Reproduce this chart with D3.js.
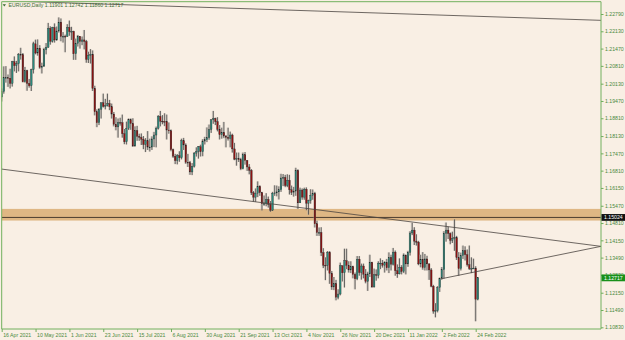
<html>
  <head>
    <script src="https://d3js.org/d3.v7.min.js"></script>
    <style>
      body { margin: 0; background: #f9efe4; }
      text { font-family: "Liberation Sans", Arial, sans-serif; }
      .axis text { fill: #4b8a3e; font-size: 5.2px; }
      .axis line { stroke: #6fae5c; }
      .axis .domain { display: none; }
    </style>
  </head>
  <body>
    <svg id="chart" width="625" height="340"></svg>
    <script>
      // EURUSD daily bars, 16 Apr 2021 .. 25 Feb 2022 (weekdays)
      var opens = [
        1.1962,1.1983,1.2036,1.2036,1.2034,1.2014,1.2097,1.2082,1.2089,1.2125,1.2124,
        1.2020,1.2063,1.2014,1.2005,1.2066,1.2165,1.2130,1.2148,1.2075,1.2080,1.2143,1.2152,1.2224,1.2175,1.2227,1.2180,1.2214,1.2248,1.2193,1.2194,1.2193,
        1.2228,1.2212,1.2213,1.2127,1.2167,1.2193,1.2174,1.2180,1.2174,1.2106,1.2122,1.2125,1.1995,1.1906,1.1864,1.1915,1.1940,1.1926,1.1930,1.1937,1.1925,1.1897,
        1.1858,1.1848,1.1865,1.1864,1.1822,1.1791,1.1843,1.1875,1.1861,1.1775,1.1834,1.1812,1.1808,1.1801,1.1781,1.1795,1.1771,1.1771,1.1802,1.1817,1.1843,1.1888,
        1.1870,1.1869,1.1868,1.1836,1.1833,1.1761,1.1736,1.1719,1.1738,1.1730,1.1795,1.1779,1.1713,1.1711,1.1676,1.1698,1.1748,1.1755,1.1772,1.1753,1.1794,1.1799,
        1.1807,1.1838,1.1875,1.1880,1.1868,1.1839,1.1818,1.1827,1.1813,1.1808,1.1804,1.1817,1.1764,1.1725,1.1727,1.1723,1.1688,1.1742,1.1720,1.1695,1.1682,1.1597,
        1.1580,1.1595,1.1621,1.1597,1.1555,1.1555,1.1571,1.1552,1.1530,1.1595,1.1596,1.1600,1.1608,1.1653,1.1655,1.1624,1.1644,1.1608,1.1598,1.1603,1.1682,
        1.1558,1.1607,1.1580,1.1610,1.1557,1.1567,1.1587,1.1594,1.1478,1.1445,1.1445,1.1368,1.1320,1.1319,1.1369,1.1289,1.1237,1.1250,1.1198,1.1210,1.1318,1.1291,
        1.1337,1.1320,1.1302,1.1315,1.1285,1.1268,1.1343,1.1292,1.1317,1.1286,1.1258,1.1287,1.1331,1.1237,1.1284,1.1282,1.1328,1.1328,1.1320,1.1331,1.1310,1.1350,1.1324,
        1.1370,1.1299,1.1287,1.1312,1.1296,1.1359,1.1325,1.1369,1.1443,1.1454,1.1412,1.1408,1.1325,1.1343,1.1311,1.1344,1.1325,1.1302,1.1240,1.1145,1.1146,
        1.1235,1.1271,1.1303,1.1442,1.1454,1.1441,1.1415,1.1423,1.1425,1.1349,1.1307,1.1357,1.1376,1.1360,1.1322,1.1307,1.1308,1.1309,1.1190
      ];
      var highs = [
        1.1995,1.2079,1.2080,1.2048,1.2070,1.2100,1.2117,1.2100,1.2130,1.2150,1.2130,
        1.2077,1.2066,1.2031,1.2070,1.2173,1.2181,1.2182,1.2160,1.2093,1.2150,1.2168,1.2245,1.2232,1.2230,1.2243,1.2231,1.2266,1.2262,1.2210,1.2200,1.2240,
        1.2254,1.2230,1.2215,1.2185,1.2199,1.2195,1.2193,1.2218,1.2180,1.2135,1.2145,1.2140,1.2005,1.1915,1.1920,1.1941,1.1975,1.1955,1.1975,1.1951,1.1937,1.1905,
        1.1885,1.1880,1.1883,1.1895,1.1840,1.1868,1.1880,1.1880,1.1881,1.1850,1.1852,1.1822,1.1823,1.1813,1.1805,1.1832,1.1803,1.1812,1.1829,1.1849,1.1893,1.1909,
        1.1893,1.1900,1.1895,1.1865,1.1838,1.1765,1.1745,1.1744,1.1755,1.1803,1.1806,1.1785,1.1745,1.1718,1.1710,1.1752,1.1770,1.1775,1.1780,1.1801,1.1810,1.1846,
        1.1857,1.1877,1.1909,1.1883,1.1885,1.1855,1.1845,1.1867,1.1817,1.1845,1.1830,1.1822,1.1787,1.1750,1.1750,1.1730,1.1750,1.1752,1.1721,1.1706,1.1687,1.1603,
        1.1613,1.1640,1.1625,1.1600,1.1586,1.1595,1.1582,1.1565,1.1600,1.1625,1.1624,1.1621,1.1669,1.1668,1.1665,1.1667,1.1665,1.1624,1.1619,1.1692,1.1686,
        1.1616,1.1613,1.1616,1.1617,1.1570,1.1610,1.1609,1.1600,1.1490,1.1464,1.1465,1.1385,1.1350,1.1374,1.1374,1.1298,1.1275,1.1264,1.1228,1.1330,1.1319,1.1383,
        1.1383,1.1335,1.1335,1.1318,1.1292,1.1355,1.1355,1.1326,1.1326,1.1305,1.1295,1.1360,1.1333,1.1307,1.1304,1.1335,1.1346,1.1340,1.1335,1.1344,1.1369,1.1360,1.1386,
        1.1376,1.1323,1.1346,1.1320,1.1365,1.1360,1.1375,1.1450,1.1482,1.1465,1.1438,1.1413,1.1360,1.1370,1.1363,1.1356,1.1327,1.1309,1.1245,1.1175,1.1240,
        1.1272,1.1313,1.1450,1.1483,1.1467,1.1445,1.1448,1.1495,1.1432,1.1370,1.1368,1.1395,1.1392,1.1380,1.1395,1.1350,1.1345,1.1316,1.1274
      ];
      var lows = [
        1.1945,1.1975,1.2017,1.2001,1.1995,1.2002,1.2060,1.2054,1.2060,1.2105,1.2018,
        1.2017,1.1986,1.1998,1.1985,1.2052,1.2125,1.2120,1.2070,1.2052,1.2077,1.2125,1.2150,1.2162,1.2170,1.2170,1.2177,1.2208,1.2175,1.2170,1.2133,1.2192,
        1.2196,1.2180,1.2104,1.2104,1.2155,1.2147,1.2160,1.2144,1.2093,1.2092,1.2090,1.1985,1.1892,1.1847,1.1855,1.1880,1.1922,1.1915,1.1926,1.1912,1.1880,1.1850,
        1.1835,1.1807,1.1853,1.1807,1.1782,1.1781,1.1836,1.1837,1.1772,1.1773,1.1795,1.1795,1.1779,1.1763,1.1752,1.1760,1.1754,1.1760,1.1771,1.1770,1.1838,1.1850,
        1.1858,1.1851,1.1800,1.1822,1.1755,1.1730,1.1706,1.1705,1.1715,1.1724,1.1760,1.1707,1.1695,1.1665,1.1664,1.1693,1.1735,1.1727,1.1735,1.1736,1.1781,1.1790,
        1.1799,1.1825,1.1860,1.1855,1.1831,1.1800,1.1803,1.1805,1.1770,1.1796,1.1770,1.1750,1.1721,1.1700,1.1714,1.1683,1.1686,1.1704,1.1680,1.1667,1.1588,1.1563,
        1.1562,1.1580,1.1585,1.1529,1.1547,1.1545,1.1540,1.1524,1.1527,1.1585,1.1583,1.1571,1.1600,1.1622,1.1618,1.1618,1.1590,1.1588,1.1582,1.1585,1.1535,
        1.1560,1.1570,1.1570,1.1530,1.1513,1.1555,1.1570,1.1464,1.1432,1.1432,1.1355,1.1309,1.1263,1.1300,1.1249,1.1226,1.1225,1.1186,1.1190,1.1205,1.1258,1.1235,
        1.1305,1.1292,1.1290,1.1270,1.1228,1.1263,1.1280,1.1265,1.1270,1.1251,1.1222,1.1275,1.1234,1.1235,1.1261,1.1270,1.1305,1.1311,1.1292,1.1300,1.1290,1.1300,1.1319,
        1.1280,1.1272,1.1285,1.1285,1.1290,1.1285,1.1314,1.1357,1.1435,1.1397,1.1395,1.1320,1.1312,1.1303,1.1300,1.1300,1.1264,1.1236,1.1135,1.1121,1.1140,
        1.1218,1.1265,1.1269,1.1410,1.1420,1.1400,1.1405,1.1375,1.1340,1.1280,1.1300,1.1344,1.1338,1.1315,1.1302,1.1290,1.1305,1.1106,1.1186
      ];
      var closes = [
        1.1983,1.2036,1.2036,1.2034,1.2014,1.2097,1.2082,1.2089,1.2125,1.2124,1.2020,
        1.2063,1.2014,1.2005,1.2066,1.2165,1.2130,1.2148,1.2075,1.2080,1.2143,1.2152,1.2224,1.2175,1.2227,1.2180,1.2214,1.2248,1.2193,1.2194,1.2193,1.2228,
        1.2212,1.2213,1.2127,1.2167,1.2193,1.2174,1.2180,1.2174,1.2106,1.2122,1.2125,1.1995,1.1906,1.1864,1.1915,1.1940,1.1926,1.1930,1.1937,1.1925,1.1897,1.1858,
        1.1848,1.1865,1.1864,1.1822,1.1791,1.1843,1.1875,1.1861,1.1775,1.1834,1.1812,1.1808,1.1801,1.1781,1.1795,1.1771,1.1771,1.1802,1.1817,1.1843,1.1888,1.1870,
        1.1869,1.1868,1.1836,1.1833,1.1761,1.1736,1.1719,1.1738,1.1730,1.1795,1.1779,1.1713,1.1711,1.1676,1.1698,1.1748,1.1755,1.1772,1.1753,1.1794,1.1799,1.1807,
        1.1838,1.1875,1.1880,1.1868,1.1839,1.1818,1.1827,1.1813,1.1808,1.1804,1.1817,1.1764,1.1725,1.1727,1.1723,1.1688,1.1742,1.1720,1.1695,1.1682,1.1597,1.1580,
        1.1595,1.1621,1.1597,1.1555,1.1555,1.1571,1.1552,1.1530,1.1595,1.1596,1.1600,1.1608,1.1653,1.1655,1.1624,1.1644,1.1608,1.1598,1.1603,1.1682,1.1558,
        1.1607,1.1580,1.1610,1.1557,1.1567,1.1587,1.1594,1.1478,1.1445,1.1445,1.1368,1.1320,1.1319,1.1369,1.1289,1.1237,1.1250,1.1198,1.1210,1.1318,1.1291,1.1337,
        1.1320,1.1302,1.1315,1.1285,1.1268,1.1343,1.1292,1.1317,1.1286,1.1258,1.1287,1.1331,1.1237,1.1284,1.1282,1.1328,1.1328,1.1320,1.1331,1.1310,1.1350,1.1324,1.1370,
        1.1299,1.1287,1.1312,1.1296,1.1359,1.1325,1.1369,1.1443,1.1454,1.1412,1.1408,1.1325,1.1343,1.1311,1.1344,1.1325,1.1302,1.1240,1.1145,1.1146,1.1235,
        1.1271,1.1303,1.1442,1.1454,1.1441,1.1415,1.1423,1.1425,1.1349,1.1307,1.1357,1.1376,1.1360,1.1322,1.1307,1.1308,1.1309,1.1190,1.1272
      ];

      var priceTicks = [1.22790, 1.22130, 1.21470, 1.20810, 1.20130, 1.19470, 1.18810, 1.18130, 1.17470, 1.16810,
                        1.16150, 1.15470, 1.14810, 1.14150, 1.13490, 1.12830, 1.12150, 1.11490, 1.10830];
      var dateLabels = ['16 Apr 2021', '10 May 2021', '1 Jun 2021', '23 Jun 2021', '15 Jul 2021', '6 Aug 2021', '30 Aug 2021',
                        '21 Sep 2021', '13 Oct 2021', '4 Nov 2021', '26 Nov 2021', '20 Dec 2021', '11 Jan 2022', '2 Feb 2022', '24 Feb 2022'];

      // drawn objects: zone, level line, trend lines as [bar index, price]
      var zone = [1.15350, 1.14905];
      var levelPrice = 1.15024;
      var lastPrice = 1.12717;
      var trendLines = [
        [[-1, 1.2330], [290, 1.2253]],
        [[-1, 1.1688], [283.2, 1.1392]],
        [[207.6, 1.1268], [283.2, 1.1392]]
      ];
      var header = 'EURUSD,Daily  1.11901 1.12742 1.11860 1.12717';

      var days = d3.timeDay.range(new Date(2021, 3, 16), new Date(2022, 1, 26))
        .filter(function(d) { return d.getDay() % 6 !== 0; });
      var fmt = d3.timeFormat('%-d %b %Y');

      // plot frame (note: "top" is reserved on window, so use plot* names)
      var plotL = 1.7, plotT = 1.7, plotR = 601, plotB = 329;

      var svg = d3.select('#chart');
      var x = d3.scaleLinear().domain([0, 224]).range([1.7, 475.7]);
      var y = d3.scaleLinear().domain([1.10830, 1.22790]).range([327.3, 14]);

      svg.append('defs').append('clipPath').attr('id', 'plot')
        .append('rect').attr('x', plotL).attr('y', plotT).attr('width', plotR - plotL).attr('height', plotB - plotT);

      var plot = svg.append('g').attr('clip-path', 'url(#plot)');

      // zone + level
      plot.append('rect')
        .attr('x', plotL).attr('width', plotR - plotL)
        .attr('y', y(zone[0])).attr('height', y(zone[1]) - y(zone[0]))
        .attr('fill', '#dfb784');
      plot.append('line')
        .attr('x1', plotL).attr('x2', plotR)
        .attr('y1', y(levelPrice)).attr('y2', y(levelPrice))
        .attr('stroke', '#3b3026').attr('stroke-width', 0.9);

      // candles
      var bars = d3.range(closes.length);
      var candle = plot.append('g').selectAll('g').data(bars).join('g');
      candle.append('line')
        .attr('x1', function(i) { return x(i) - 0.3; }).attr('x2', function(i) { return x(i) - 0.3; })
        .attr('y1', function(i) { return y(highs[i]); }).attr('y2', function(i) { return y(lows[i]); })
        .attr('stroke', '#b9b2aa').attr('stroke-width', 2.2).attr('opacity', 0.55);
      candle.append('line')
        .attr('x1', function(i) { return x(i); }).attr('x2', function(i) { return x(i); })
        .attr('y1', function(i) { return y(highs[i]); }).attr('y2', function(i) { return y(lows[i]); })
        .attr('stroke', '#3a3a3a').attr('stroke-width', 0.7);
      candle.append('rect')
        .attr('x', function(i) { return x(i) - 0.8; })
        .attr('width', 1.6)
        .attr('y', function(i) { return y(Math.max(opens[i], closes[i])); })
        .attr('height', function(i) { return Math.max(0.8, Math.abs(y(opens[i]) - y(closes[i]))); })
        .attr('fill', function(i) { return closes[i] >= opens[i] ? '#2b8a7c' : '#8c1212'; })
        .attr('stroke', '#222').attr('stroke-width', 0.3);

      // trend lines
      plot.append('g').selectAll('line').data(trendLines).join('line')
        .attr('x1', function(d) { return x(d[0][0]); }).attr('y1', function(d) { return y(d[0][1]); })
        .attr('x2', function(d) { return x(d[1][0]); }).attr('y2', function(d) { return y(d[1][1]); })
        .attr('stroke', '#4a4440').attr('stroke-width', 0.8);

      // frame
      svg.append('path')
        .attr('d', 'M' + plotL + ',' + plotT + 'H' + plotR + 'V' + plotB + 'H' + plotL + 'Z')
        .attr('fill', 'none').attr('stroke', '#72b05e').attr('stroke-width', 1);

      // price axis
      svg.append('g').attr('class', 'axis').attr('transform', 'translate(' + plotR + ',0)')
        .call(d3.axisRight(y).tickValues(priceTicks).tickFormat(d3.format('.5f')).tickSize(2.5).tickPadding(1.5));

      // time axis
      var tickIdx = dateLabels.map(function(l) {
        return days.findIndex(function(d) { return fmt(d) === l; });
      });
      var xAxis = svg.append('g').attr('class', 'axis').attr('transform', 'translate(0,' + plotB + ')')
        .call(d3.axisBottom(x).tickValues(tickIdx)
          .tickFormat(function(i) { return fmt(days[i]); }).tickSize(3).tickPadding(1));
      xAxis.selectAll('text').attr('text-anchor', 'start').attr('dx', 1);

      // price labels
      function priceTag(p, fill) {
        var g = svg.append('g').attr('transform', 'translate(' + plotR + ',' + y(p) + ')');
        g.append('rect').attr('x', 0.5).attr('y', -3.4).attr('width', 23.5).attr('height', 6.8).attr('fill', fill);
        g.append('text').attr('x', 3).attr('dy', '0.35em').attr('fill', '#fff').attr('font-size', 5.2)
          .text(d3.format('.5f')(p));
      }
      priceTag(levelPrice, '#111');
      priceTag(lastPrice, '#18901a');

      // header
      svg.append('path').attr('d', 'M2.6,4.2 L6,4.2 L4.3,6.6 Z').attr('fill', '#3e6e34');
      svg.append('text').attr('x', 8.5).attr('y', 7.2).attr('font-size', 5.2).attr('fill', '#3e6e34').text(header);
    </script>
  </body>
</html>
